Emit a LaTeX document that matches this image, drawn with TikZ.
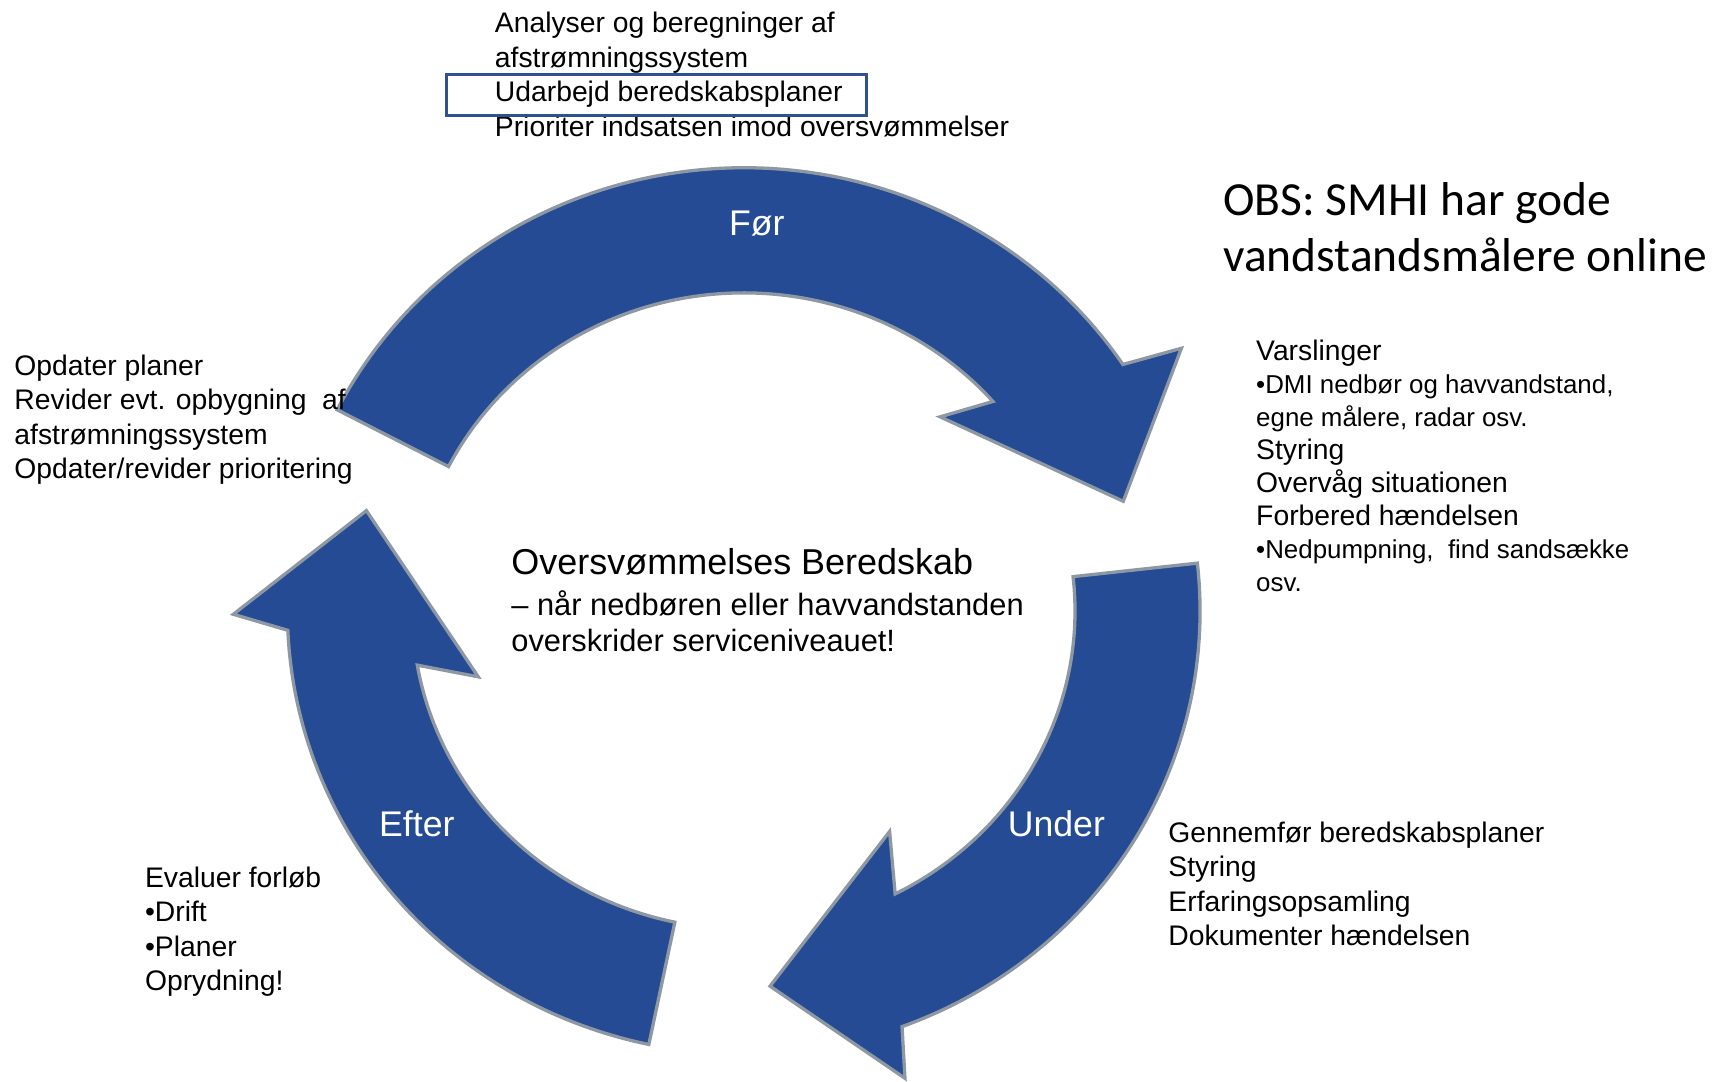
\documentclass[tikz,border=0pt]{standalone}
\usepackage{fontspec}
\setmainfont{Liberation Sans}
\newfontfamily\obsfont{Carlito}
\usetikzlibrary{math}

\definecolor{cycleblue}{RGB}{37,75,148}
\definecolor{cyclerim}{RGB}{142,152,163}
\definecolor{boxblue}{RGB}{47,82,143}

\begin{document}
\begin{tikzpicture}[x=1pt, y=1pt,
    notes/.style={anchor=north west, inner sep=0pt, align=left,
        font=\fontsize{25.8}{31.5}\selectfont},
    phase/.style={text=white, inner sep=0pt, font=\fontsize{32.5}{39}\selectfont}]

% Size settings
\tikzmath{
    \OuterRX = 416;
    \OuterRY = 404;
    \InnerRX = 302;
    \InnerRY = 290;
}

\useasboundingbox (0,0) rectangle (1568,986);

\coordinate (Centre) at (678,429);

\coordinate (ForBarbA) at (1077,668.5);
\coordinate (ForTip) at (1024,529);
\coordinate (ForBarbB) at (857,606);

\coordinate (UnderBarbA) at (825,3);
\coordinate (UnderTip) at (702,87);
\coordinate (UnderBarbB) at (811,228);

\coordinate (EfterBarbA) at (212.7,426);
\coordinate (EfterTip) at (334,520.5);
\coordinate (EfterBarbB) at (436,369);

\begin{scope}[line width=3pt]

    % Foer arrow
    \draw [cyclerim, fill=cycleblue]
        ([shift={(Centre)}]153:{\OuterRX} and {\OuterRY})
        arc [start angle=153, end angle=33.8, x radius=\OuterRX, y radius=\OuterRY]
        -- (ForBarbA) -- (ForTip) -- (ForBarbB)
        -- ([shift={(Centre)}]41.2:{\InnerRX} and {\InnerRY})
        arc [start angle=41.2, end angle=153, x radius=\InnerRX, y radius=\InnerRY]
        -- cycle;

    % Under arrow
    \draw [cyclerim, fill=cycleblue]
        ([shift={(Centre)}]6.2:{\OuterRX} and {\OuterRY})
        arc [start angle=6.2, end angle=-69.7, x radius=\OuterRX, y radius=\OuterRY]
        -- (UnderBarbA) -- (UnderTip) -- (UnderBarbB)
        -- ([shift={(Centre)}]-62.8:{\InnerRX} and {\InnerRY})
        arc [start angle=-62.8, end angle=6.2, x radius=\InnerRX, y radius=\InnerRY]
        -- cycle;

    % Efter arrow
    \draw [cyclerim, fill=cycleblue]
        ([shift={(Centre)}]258:{\OuterRX} and {\OuterRY})
        arc [start angle=258, end angle=182.5, x radius=\OuterRX, y radius=\OuterRY]
        -- (EfterBarbA) -- (EfterTip) -- (EfterBarbB)
        -- ([shift={(Centre)}]189.8:{\InnerRX} and {\InnerRY})
        arc [start angle=189.8, end angle=258, x radius=\InnerRX, y radius=\InnerRY]
        -- cycle;
\end{scope}

% Phase names
\node [phase] (ForLabel) at (690,782) {Før};
\node [phase] (UnderLabel) at (963,235) {Under};
\node [phase] (EfterLabel) at (380,235) {Efter};

% Notes round the cycle
\node [notes] (BeforeNotes) at (451,975)
    {Analyser og beregninger af\\afstrømningssystem\\Udarbejd beredskabsplaner\\Prioriter indsatsen imod oversvømmelser};
\draw [boxblue, line width=3pt] (407,881) rectangle (790,918);

\node [notes, font=\fontsize{25.8}{30}\selectfont] (DuringNotes) at (1145,676)
    {Varslinger\\
     {\fontsize{23.6}{30}\selectfont •DMI nedbør og havvandstand,}\\
     {\fontsize{23.6}{30}\selectfont egne målere, radar osv.}\\
     Styring\\Overvåg situationen\\Forbered hændelsen\\
     {\fontsize{23.6}{30}\selectfont •Nedpumpning,\ \ find sandsække}\\
     {\fontsize{23.6}{30}\selectfont osv.}};

\node [notes] (UnderNotes) at (1065,237)
    {Gennemfør beredskabsplaner\\Styring\\Erfaringsopsamling\\Dokumenter hændelsen};

\node [notes] (AfterNotes) at (132,196)
    {Evaluer forløb\\•Drift\\•Planer\\Oprydning!};

\node [notes] (ReviseNotes) at (13,663)
    {Opdater planer\\Revider evt. opbygning\ \ af\\afstrømningssystem\\Opdater/revider prioritering};

% Centre text
\node [notes, font=\fontsize{28.1}{33}\selectfont] (CentreTitle) at (466,486)
    {{\fontsize{32.8}{36}\selectfont Oversvømmelses Beredskab}\\[4pt]
     – når nedbøren eller havvandstanden\\overskrider serviceniveauet!};

\node [notes, font=\obsfont\fontsize{43.3}{51}\selectfont] (ObsNote) at (1115,820)
    {OBS: SMHI har gode\\vandstandsmålere online};

\end{tikzpicture}
\end{document}
